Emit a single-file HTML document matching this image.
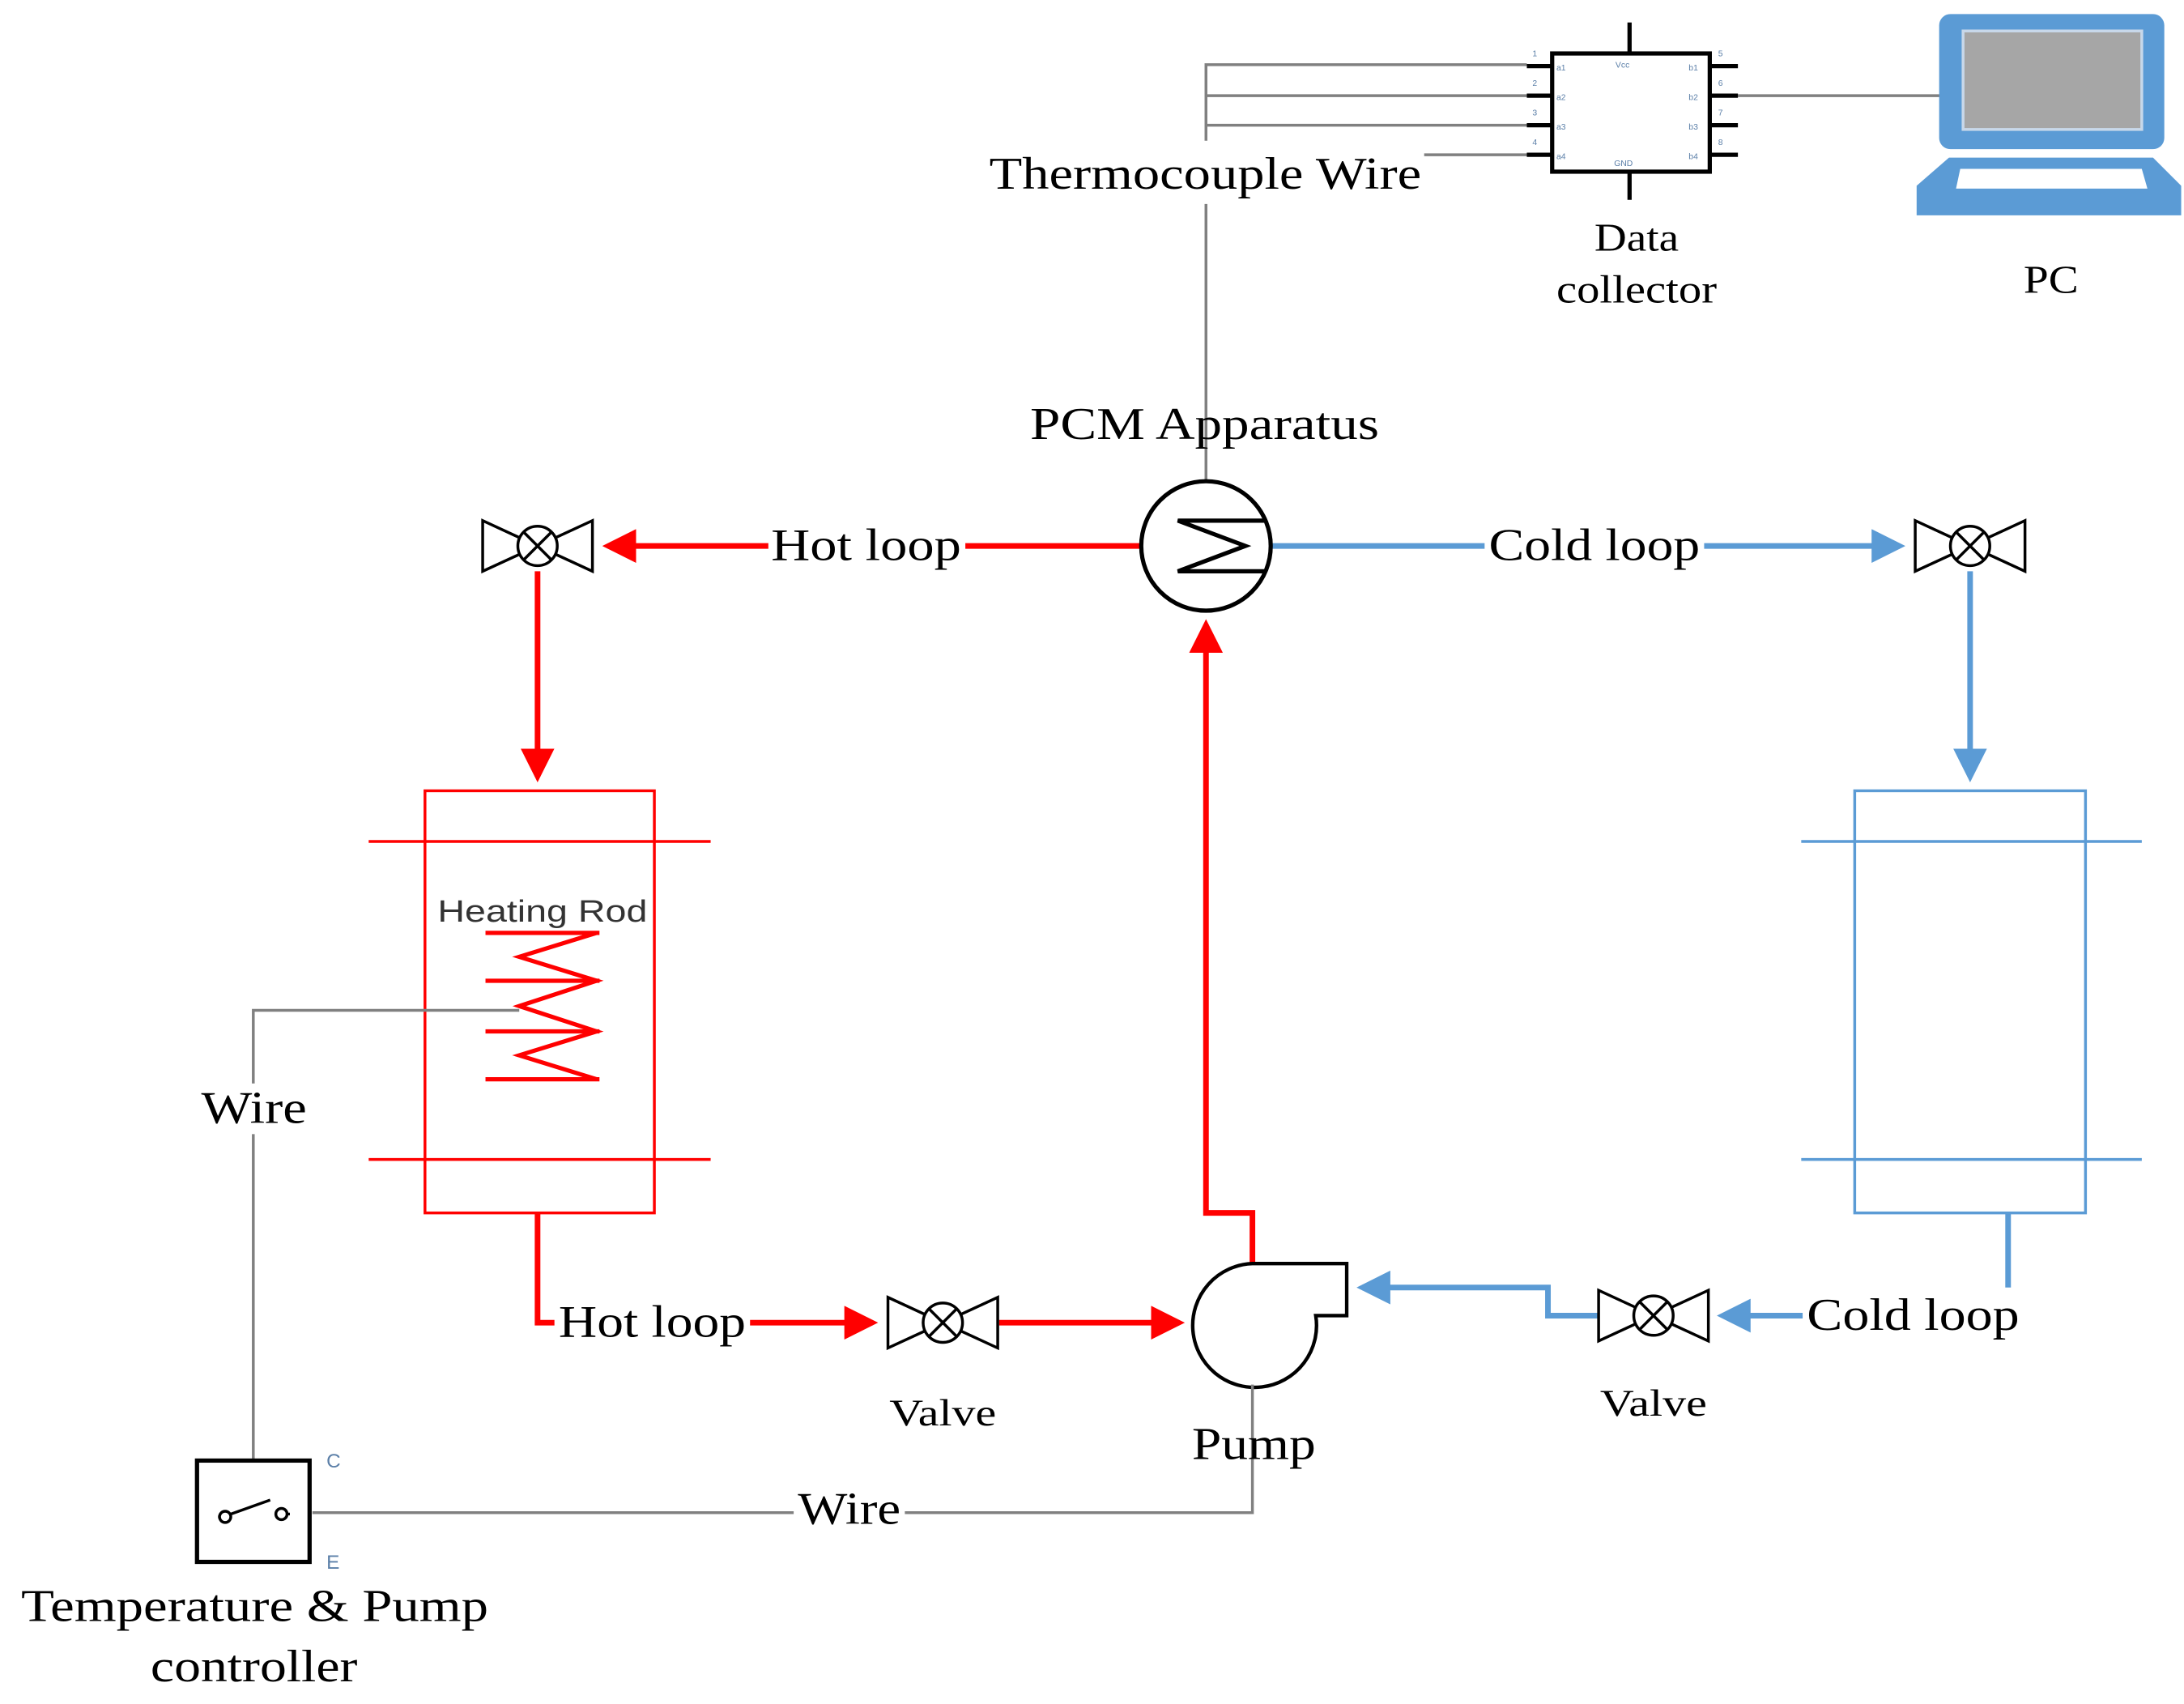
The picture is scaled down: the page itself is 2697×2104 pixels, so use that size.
<!DOCTYPE html>
<html><head><meta charset="utf-8"><style>html,body{margin:0;padding:0;background:#fff}svg{display:block}</style></head><body>
<svg width="2697" height="2104" viewBox="0 0 1552 1211" preserveAspectRatio="none" xmlns="http://www.w3.org/2000/svg" font-family="Liberation Serif, serif">
<defs>
<marker id="ar" markerWidth="6" markerHeight="6" refX="5" refY="3" orient="auto" markerUnits="strokeWidth"><path d="M0,0 L6,3 L0,6z" fill="#ff0000"/></marker>
<marker id="ab" markerWidth="6" markerHeight="6" refX="5" refY="3" orient="auto" markerUnits="strokeWidth"><path d="M0,0 L6,3 L0,6z" fill="#5b9bd5"/></marker>
<g id="valve"><path d="M-39,-18 L39,18 L39,-18 L-39,18 Z" fill="#fff" stroke="#000" stroke-width="2"/><circle r="14" fill="#fff" stroke="#000" stroke-width="2"/><path d="M-10,-10 L10,10 M10,-10 L-10,10" stroke="#000" stroke-width="2"/></g>
</defs>
<g stroke="#808080" stroke-width="2" fill="none">
<path d="M857,345 V145 M857,100 V46 H1085 M857,68 H1085 M857,89 H1085 M1012,110 H1085"/>
<path d="M1235,68 H1380"/>
</g>
<g stroke="#000" stroke-width="3" fill="none">
<rect x="1103" y="38" width="112" height="84" fill="#fff"/>
<path d="M1158,16 V38 M1158,122 V142"/>
<path d="M1085,47 H1103 M1085,68 H1103 M1085,89 H1103 M1085,110 H1103 M1215,47 H1235 M1215,68 H1235 M1215,89 H1235 M1215,110 H1235"/>
</g>
<g fill="#5b7fa8" font-size="6" font-family="Liberation Sans, sans-serif">
<text x="1089" y="40">1</text><text x="1089" y="61">2</text><text x="1089" y="82">3</text><text x="1089" y="103">4</text>
<text x="1221" y="40">5</text><text x="1221" y="61">6</text><text x="1221" y="82">7</text><text x="1221" y="103">8</text>
<text x="1106" y="50">a1</text><text x="1106" y="71">a2</text><text x="1106" y="92">a3</text><text x="1106" y="113">a4</text>
<text x="1200" y="50">b1</text><text x="1200" y="71">b2</text><text x="1200" y="92">b3</text><text x="1200" y="113">b4</text>
<text x="1148" y="48">Vcc</text><text x="1147" y="118">GND</text>
</g>
<rect x="1378" y="10" width="160" height="96" rx="8" fill="#5b9bd5"/>
<rect x="1395" y="22" width="127" height="70" fill="#a6a6a6" stroke="#c8d8ea" stroke-width="2"/>
<path d="M1385,112 H1530 L1550,132 V153 H1362 V132 Z" fill="#5b9bd5"/>
<path d="M1393,120 H1522 L1526,134 H1390 Z" fill="#fff"/>
<rect x="700" y="105" width="312" height="36" fill="#fff"/>
<g font-size="32" fill="#000" lengthAdjust="spacingAndGlyphs">
<text x="703" y="134" textLength="307" lengthAdjust="spacingAndGlyphs">Thermocouple Wire</text>
<text x="732" y="312" textLength="248" lengthAdjust="spacingAndGlyphs">PCM Apparatus</text>
</g>
<g font-size="28" fill="#000">
<text x="1133" y="178" textLength="60" lengthAdjust="spacingAndGlyphs">Data</text><text x="1106" y="215" textLength="114" lengthAdjust="spacingAndGlyphs">collector</text><text x="1438" y="208" textLength="39" lengthAdjust="spacingAndGlyphs">PC</text>
</g>
<g stroke="#ff0000" stroke-width="4" fill="none">
<path d="M810,388 H432" marker-end="url(#ar)"/>
<path d="M382,406 V552" marker-end="url(#ar)"/>
<path d="M382,862 V940 H620" marker-end="url(#ar)"/>
<path d="M710,940 H838" marker-end="url(#ar)"/>
<path d="M890,898 V862 H857 V444" marker-end="url(#ar)"/>
</g>
<g stroke="#ff0000" stroke-width="2" fill="none">
<rect x="302" y="562" width="163" height="300"/>
<path d="M262,598 H505 M262,824 H505"/>
</g>
<g stroke="#ff0000" stroke-width="3" fill="none">
<path d="M345,663 H426 M345,697 H426 M345,733 H426 M345,767 H426"/>
<path d="M424,663 L369,680 L424,697 L369,715 L424,733 L369,750 L424,767"/>
</g>
<g stroke="#5b9bd5" stroke-width="4" fill="none">
<path d="M903,388 H1350" marker-end="url(#ab)"/>
<path d="M1400,406 V552" marker-end="url(#ab)"/>
<path d="M1427,862 V935 H1224" marker-end="url(#ab)"/>
<path d="M1137,935 H1100 V915 H968" marker-end="url(#ab)"/>
</g>
<g stroke="#5b9bd5" stroke-width="2" fill="none">
<rect x="1318" y="562" width="164" height="300"/>
<path d="M1280,598 H1522 M1280,824 H1522"/>
</g>
<use href="#valve" x="382" y="388"/>
<use href="#valve" x="1400" y="388"/>
<use href="#valve" x="670" y="940"/>
<use href="#valve" x="1175" y="935"/>
<circle cx="857" cy="388" r="46" fill="#fff" stroke="#000" stroke-width="3"/>
<path d="M900,370 H837 L885,388 L837,406 H900" fill="none" stroke="#000" stroke-width="3"/>
<path d="M890,898 H957 V935 H935 A44,44 0 1 1 890,898 Z" fill="#fff" stroke="#000" stroke-width="2.5"/>
<g stroke="#808080" stroke-width="2" fill="none">
<path d="M369,718 H180 V1038"/>
<path d="M890,984 V1075 H222"/>
</g>
<rect x="140" y="1038" width="80" height="72" fill="#fff" stroke="#000" stroke-width="3"/>
<circle cx="160" cy="1078" r="4" fill="none" stroke="#000" stroke-width="2"/>
<circle cx="200" cy="1076" r="4" fill="none" stroke="#000" stroke-width="2"/>
<path d="M164,1076 L192,1066 M155,1078 H156 M204,1076 H206" stroke="#000" stroke-width="2"/>
<g fill="#5b7fa8" font-size="14" font-family="Liberation Sans, sans-serif"><text x="232" y="1043">C</text><text x="232" y="1115">E</text></g>
<g fill="#fff">
<rect x="546" y="368" width="140" height="38"/>
<rect x="1055" y="368" width="156" height="38"/>
<rect x="394" y="920" width="139" height="38"/>
<rect x="1281" y="915" width="157" height="38"/>
<rect x="140" y="770" width="80" height="36"/>
<rect x="564" y="1055" width="79" height="36"/>
</g>
<g font-size="32" fill="#000">
<text x="548" y="398" textLength="135" lengthAdjust="spacingAndGlyphs">Hot loop</text>
<text x="1058" y="398" textLength="150" lengthAdjust="spacingAndGlyphs">Cold loop</text>
<text x="397" y="950" textLength="133" lengthAdjust="spacingAndGlyphs">Hot loop</text>
<text x="1284" y="945" textLength="151" lengthAdjust="spacingAndGlyphs">Cold loop</text>
<text x="143" y="798" textLength="75" lengthAdjust="spacingAndGlyphs">Wire</text>
<text x="567" y="1083" textLength="73" lengthAdjust="spacingAndGlyphs">Wire</text>
<text x="847" y="1037" textLength="88" lengthAdjust="spacingAndGlyphs">Pump</text>
<text x="15" y="1152" textLength="332" lengthAdjust="spacingAndGlyphs">Temperature &amp; Pump</text>
<text x="107" y="1195" textLength="147" lengthAdjust="spacingAndGlyphs">controller</text>
</g>
<g font-size="27" fill="#000"><text x="632" y="1013" textLength="76" lengthAdjust="spacingAndGlyphs">Valve</text><text x="1137" y="1006" textLength="76" lengthAdjust="spacingAndGlyphs">Valve</text></g>
<text x="311" y="655" font-size="22" font-family="Liberation Sans, sans-serif" fill="#333" textLength="149" lengthAdjust="spacingAndGlyphs">Heating Rod</text>
</svg>
</body></html>
